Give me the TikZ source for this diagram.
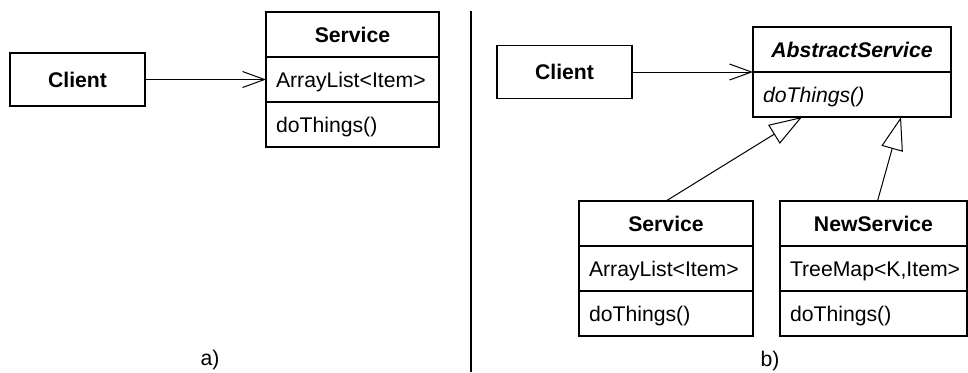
\documentclass[tikz,border=0pt]{standalone}
\usepackage{fontspec}
\setmainfont{Liberation Sans}
\usetikzlibrary{positioning,arrows.meta}
\tikzset{
  every node/.style={font=\fontsize{10.6}{12.7}\selectfont},
  umlbox/.style={draw,line width=0.7pt,outer sep=0pt,inner sep=0pt,minimum height=22.5pt,text height=7.6pt,text depth=0pt},
  namebox/.style={umlbox,minimum width=#1,font=\fontsize{10.6}{12.7}\selectfont\bfseries},
  itembox/.style={umlbox,inner xsep=5pt,text width=#1,align=left},
  clientbox/.style={umlbox,minimum width=67.5pt,minimum height=26.5pt,font=\fontsize{10.6}{12.7}\selectfont\bfseries},
  assoc/.style={line width=0.5pt,->},
  inherit/.style={line width=0.5pt,-{Triangle[open,length=16.5pt,width=11pt]}}
}
\begin{document}
\begin{tikzpicture}[x=0.5pt,y=-0.5pt,>={Straight Barb[length=11pt,width=8pt]}]
\useasboundingbox (0,0) rectangle (968,372);
% a) client uses the concrete service
\node[clientbox] (cla) at (77.5,79.5) {Client};
\node[namebox=86.5pt] (srva) at (352.5,34.5) {Service};
\node[itembox=76.5pt,below=0pt of srva] (srvaf) {ArrayList<Item>};
\node[itembox=76.5pt,below=0pt of srvaf] (srvam) {doThings()};
\draw[assoc] (cla.east) -- (srvaf.west);
\node (capa) at (210,360) {a)};
% separator
\coordinate (sepup) at (470.5,11); \coordinate (seplo) at (470.5,372);
\draw[line width=1pt] (sepup) -- (seplo);
% b) client uses the abstraction
\node[clientbox] (clb) at (564.5,72) {Client};
\node[namebox=99pt,font=\fontsize{10.6}{12.7}\selectfont\bfseries\itshape] (abs) at (852,49.5) {AbstractService};
\node[itembox=89pt,font=\fontsize{10.6}{12.7}\selectfont\itshape,below=0pt of abs] (absm) {doThings()};
\draw[assoc] (clb.east) -- (abs.south west);
\node[namebox=87pt] (srvb) at (666,223.5) {Service};
\node[itembox=77pt,below=0pt of srvb] (srvbf) {ArrayList<Item>};
\node[itembox=77pt,below=0pt of srvbf] (srvbm) {doThings()};
\node[namebox=93.5pt] (nsrv) at (873.5,223.5) {NewService};
\node[itembox=83.5pt,below=0pt of nsrv] (nsrvf) {TreeMap<K,Item>};
\node[itembox=83.5pt,below=0pt of nsrvf] (nsrvm) {doThings()};
\draw[inherit] (srvb.north) -- ([xshift=-25pt]absm.south);
\draw[inherit] ([xshift=2pt]nsrv.north) -- ([xshift=24.5pt]absm.south);
\node (capb) at (770,361) {b)};
\end{tikzpicture}
\end{document}
